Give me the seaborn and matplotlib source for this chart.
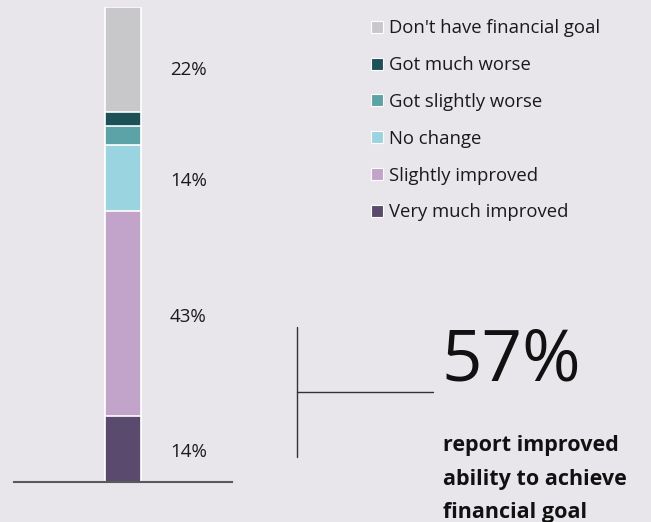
import matplotlib
matplotlib.use("Agg")
import matplotlib.pyplot as plt
from matplotlib.patches import Patch
from matplotlib.lines import Line2D
import seaborn as sns
import pandas as pd
import numpy as np

# Survey responses, listed bottom to top of the stacked bar
categories = ["Very much improved", "Slightly improved", "No change",
              "Got slightly worse", "Got much worse", "Don't have financial goal"]
shares = [14, 43, 14, 4, 3, 22]
colors = ["#5A4A6E", "#C2A3C9", "#9AD4E1", "#5BA3A6", "#1B5157", "#C8C8CB"]
labelled = ["Very much improved", "Slightly improved", "No change",
            "Don't have financial goal"]
headline_value = "57%"
headline_text = "report improved\nability to achieve\nfinancial goal"

BG = "#E8E6EB"
sns.set_theme(style="white")
plt.rcParams["font.family"] = ["Open Sans", "DejaVu Sans"]

W, H = 651, 522
fig = plt.figure(figsize=(W / 100, H / 100), dpi=100, facecolor=BG)

# axes placed in pixel terms: x 14..232, y 7..482 from top
ax = fig.add_axes([14 / W, (H - 482) / H, 218 / W, 475 / H])
ax.set_facecolor(BG)

df = pd.DataFrame({"category": categories, "share": shares, "color": colors})
df["top"] = df["share"].cumsum()
df["bottom"] = df["top"] - df["share"]

# stacked bar: draw cumulative totals from tallest to shortest so each sits on the next
for _, row in df[::-1].iterrows():
    sns.barplot(data=pd.DataFrame({"group": ["all"], "top": [row["top"]]}),
                x="group", y="top", color=row["color"], width=0.165,
                edgecolor="white", linewidth=1.2, saturation=1, ax=ax)

ax.set_xlim(-0.5, 0.5)
ax.set_ylim(0, 100)
ax.set_xlabel("")
ax.set_ylabel("")
ax.set_xticks([])
ax.set_yticks([])
for side in ["top", "right", "left"]:
    ax.spines[side].set_visible(False)
ax.spines["bottom"].set_color("#595959")
ax.spines["bottom"].set_linewidth(1.5)

# value labels beside the bar; the top one sits a little lower in its segment
for _, row in df.iterrows():
    if row["category"] in labelled:
        dy = -8 if row["category"] == "Don't have financial goal" else -2.5
        ax.annotate(f"{row['share']}%", (0.3, (row["bottom"] + row["top"]) / 2),
                    xytext=(0, dy), textcoords="offset points",
                    ha="center", va="center", fontsize=13.5, color="#1a1a1a")

# legend, top entry first
handles = [Patch(facecolor=c, edgecolor="white", linewidth=0.8, label=l)
           for l, c in zip(categories[::-1], colors[::-1])]
fig.legend(handles=handles, loc="upper left",
           bbox_to_anchor=(362 / W, 1 - 10 / H), frameon=False,
           fontsize=13.3, handlelength=0.62, handleheight=0.62,
           handletextpad=0.35, labelspacing=1.02, borderpad=0,
           labelcolor="#1a1a1a")

# callout lines
fig.add_artist(Line2D([297 / W, 297 / W], [1 - 327 / H, 1 - 457 / H],
                      color="#333333", linewidth=1))
fig.add_artist(Line2D([297 / W, 433 / W], [1 - 392 / H, 1 - 392 / H],
                      color="#333333", linewidth=1))

fig.text(441 / W, 1 - 362 / H, headline_value, fontsize=51, color="#111111",
         ha="left", va="center")
fig.text(443 / W, 1 - 479 / H, headline_text, fontsize=15.5, fontweight="bold",
         color="#111111", ha="left", va="center", linespacing=1.76)

fig.savefig("out.png", dpi=100, facecolor=BG)
